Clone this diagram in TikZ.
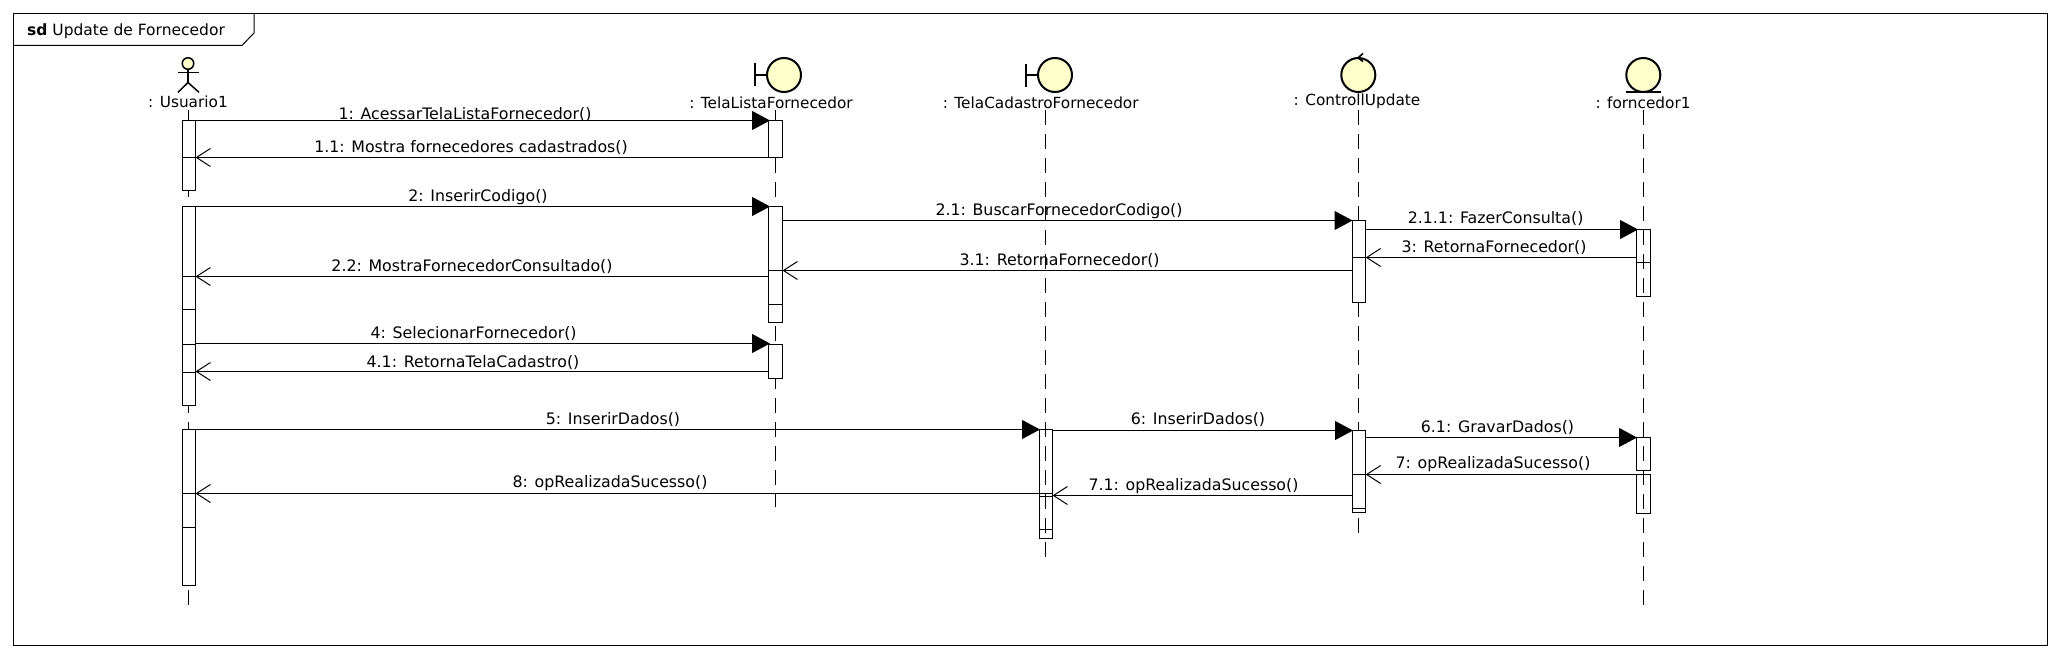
\documentclass[tikz,border=0pt]{standalone}
\usepackage{fontspec}
\setmainfont{DejaVu Sans}
\usetikzlibrary{arrows.meta}
\definecolor{iconfill}{HTML}{FFFFCC}
\tikzset{
  x=1pt,y=-1pt,
  frameline/.style={draw=black,line width=1pt},
  lifeline/.style={draw=black,line width=1pt,dash pattern=on 15pt off 9pt},
  activation/.style={draw=black,fill=white,line width=1pt,rectangle,inner sep=0pt,minimum width=13.5pt},
  barline/.style={draw=black,line width=1pt},
  syncmsg/.style={draw=black,line width=1.1pt,-{Triangle[length=18pt,width=19pt]}},
  replymsg/.style={draw=black,line width=1.1pt,-{Straight Barb[length=14pt,width=18pt,line width=1pt]}},
  msglabel/.style={inner sep=0pt,yshift=-0.7pt,font=\fontsize{15.8}{18}\selectfont},
  headlabel/.style={inner sep=0pt,font=\fontsize{15.3}{18}\selectfont},
  icon/.style={draw=black,fill=iconfill,line width=2pt,circle,inner sep=0pt,minimum size=33pt},
  iconline/.style={draw=black,line width=2pt},
  actorline/.style={draw=black,line width=1.5pt},
}
\newcommand{\msg}[8]{%
  \coordinate (#1s) at (#3,#5);
  \coordinate (#1e) at (#4,#5);
  \draw[#2] (#1s) -- (#1e);
  \node[msglabel] (#1l) at (#7,#8) {#6};
}
\newcommand{\actv}[4]{% name, x centre, y top, y bottom
  \pgfmathsetmacro{\acth}{#4-#3}
  \node[activation,minimum height=\acth pt] (#1) at (#2,{(#3+#4)/2}) {};
}
\newcommand{\life}[4]{% name, x, y1, y2
  \coordinate (#1t) at (#2,#3);
  \coordinate (#1b) at (#2,#4);
  \draw[lifeline] (#1t) -- (#1b);
}
\begin{document}
\begin{tikzpicture}
\useasboundingbox (0,0) rectangle (2060,658);
% frame
\node[inner sep=0pt] (frameTL) at (13.5,13.5) {};
\node[inner sep=0pt] (frameBR) at (2047.5,645.5) {};
\draw[frameline] (frameTL.center) rectangle (frameBR.center);
\draw[frameline] (254,13.5) -- (254,33) -- (242,45.5) -- (13.5,45.5);
\node[inner sep=0pt,anchor=base west,font=\fontsize{15.5}{18}\selectfont] (title) at (27,36) {\textbf{sd} Update de Fornecedor};

% lifelines beneath opaque activations
\life{lu}{188.5}{110}{605}
\life{ll}{775.5}{110}{507}
\life{lk}{1358.5}{110}{533}

% activations
\actv{ua}{189}{120.5}{190.5}
\actv{ub}{189}{206.5}{405.5}
\actv{uc}{189}{429.5}{585.5}
\actv{la}{775.5}{120.5}{157.5}
\actv{lb}{775.5}{206.5}{322.5}
\actv{lc}{775.5}{344.5}{378.5}
\actv{ka}{1359}{220.5}{302.5}
\actv{kb}{1359}{430.5}{512.5}
\actv{ca}{1046}{429.5}{538.5}
\actv{fa}{1643.5}{229.5}{296.5}
\actv{fb}{1643.5}{437.5}{470.5}
\actv{fc}{1643.5}{474.5}{513.5}

% internal bars
\draw[barline] (182.5,157.5) -- (195.5,157.5);
\draw[barline] (182.5,276.5) -- (195.5,276.5);
\draw[barline] (182.5,309.5) -- (195.5,309.5);
\draw[barline] (182.5,344.5) -- (195.5,344.5);
\draw[barline] (182.5,372.5) -- (195.5,372.5);
\draw[barline] (182.5,493.5) -- (195.5,493.5);
\draw[barline] (182.5,527.5) -- (195.5,527.5);
\draw[barline] (769,270.5) -- (782.5,270.5);
\draw[barline] (769,304.5) -- (782.5,304.5);
\draw[barline] (1352.5,257.5) -- (1365.7,257.5);
\draw[barline] (1352.5,474.5) -- (1365.7,474.5);
\draw[barline] (1352.5,508.5) -- (1365.7,508.5);
\draw[barline] (1039.2,493.5) -- (1052.5,493.5);
\draw[barline] (1039.2,496.5) -- (1052.5,496.5);
\draw[barline] (1039.2,529.5) -- (1052.5,529.5);
\draw[barline] (1636.7,262.5) -- (1650.3,262.5);

% lifelines visible through activations
\life{lc}{1045.5}{110}{558}
\life{lf}{1643.5}{110}{605}

% actor
\node[draw=black,fill=iconfill,line width=1.5pt,circle,inner sep=0pt,minimum size=11.5pt] (head) at (188,63.5) {};
\coordinate (hip) at (188,82.5);
\coordinate (armL) at (178,72.7);
\coordinate (armR) at (199,72.7);
\coordinate (legL) at (178,92.3);
\coordinate (legR) at (199,92.3);
\draw[actorline] (head.south) -- (hip);
\draw[actorline] (armL) -- (armR);
\draw[actorline] (legL) -- (hip) -- (legR);
\node[headlabel] (nu) at (188,102) {: Usuario1};

% boundary 1
\node[icon,minimum size=34pt] (b1) at (784,75) {};
\coordinate (b1bt) at (755,63);
\coordinate (b1bb) at (755,86);
\coordinate (b1c) at (755,75);
\draw[iconline] (b1bt) -- (b1bb);
\draw[iconline] (b1c) -- (b1.west);
\node[headlabel] (nl) at (771,103) {: TelaListaFornecedor};

% boundary 2
\node[icon,minimum size=34pt] (b2) at (1055,75) {};
\coordinate (b2bt) at (1025.5,64);
\coordinate (b2bb) at (1025.5,87);
\coordinate (b2c) at (1025.5,75);
\draw[iconline] (b2bt) -- (b2bb);
\draw[iconline] (b2c) -- (b2.west);
\node[headlabel] (nc) at (1040.7,103) {: TelaCadastroFornecedor};

% control
\node[icon,minimum size=34pt] (ct) at (1358.3,75) {};
\coordinate (cta) at (1363,53.5);
\coordinate (ctb) at (1358,57.8);
\coordinate (ctc) at (1363,61.5);
\draw[iconline,line width=1.6pt] (cta) -- (ctb) -- (ctc);
\node[headlabel] (nk) at (1357,101.7) {: ControllUpdate};

% entity
\node[icon,minimum size=34pt] (en) at (1643.3,75) {};
\coordinate (enL) at (1625.5,92);
\coordinate (enR) at (1661,92);
\draw[iconline] (enL) -- (enR);
\node[headlabel] (nf) at (1643,103) {: forncedor1};

% messages
\msg{m1}{syncmsg}{195.5}{770}{120.5}{1: AcessarTelaListaFornecedor()}{465}{114}
\msg{m11}{replymsg}{769}{195.5}{157.5}{1.1: Mostra fornecedores cadastrados()}{471}{146.7}
\msg{m2}{syncmsg}{195.5}{770}{206.5}{2: InserirCodigo()}{478}{196}
\msg{m21}{syncmsg}{782.5}{1352.5}{220.5}{2.1: BuscarFornecedorCodigo()}{1059}{210}
\msg{m31}{replymsg}{1352.5}{782.5}{270.5}{3.1: RetornaFornecedor()}{1059.6}{260}
\msg{m22}{replymsg}{769}{195.5}{276.5}{2.2: MostraFornecedorConsultado()}{472}{266}
\msg{m211}{syncmsg}{1365.7}{1638}{229.5}{2.1.1: FazerConsulta()}{1495.6}{218.3}
\msg{m3}{replymsg}{1637}{1365.7}{257.5}{3: RetornaFornecedor()}{1494}{246.7}
\msg{m4}{syncmsg}{195.5}{770}{343.5}{4: SelecionarFornecedor()}{473.6}{333}
\msg{m41}{replymsg}{769}{195.5}{371.5}{4.1: RetornaTelaCadastro()}{473}{361.7}
\msg{m5}{syncmsg}{195.5}{1040}{429.5}{5: InserirDados()}{613}{418.7}
\msg{m8}{replymsg}{1039.5}{195.5}{493.5}{8: opRealizadaSucesso()}{610}{482.7}
\msg{m6}{syncmsg}{1052.5}{1353}{430.5}{6: InserirDados()}{1198}{419.3}
\msg{m61}{syncmsg}{1365.7}{1637}{437.5}{6.1: GravarDados()}{1497.5}{426.7}
\msg{m7}{replymsg}{1636.7}{1365.7}{474.5}{7: opRealizadaSucesso()}{1493}{463.3}
\msg{m71}{replymsg}{1352.5}{1052.5}{495.5}{7.1: opRealizadaSucesso()}{1193.5}{485.7}
\end{tikzpicture}
\end{document}
